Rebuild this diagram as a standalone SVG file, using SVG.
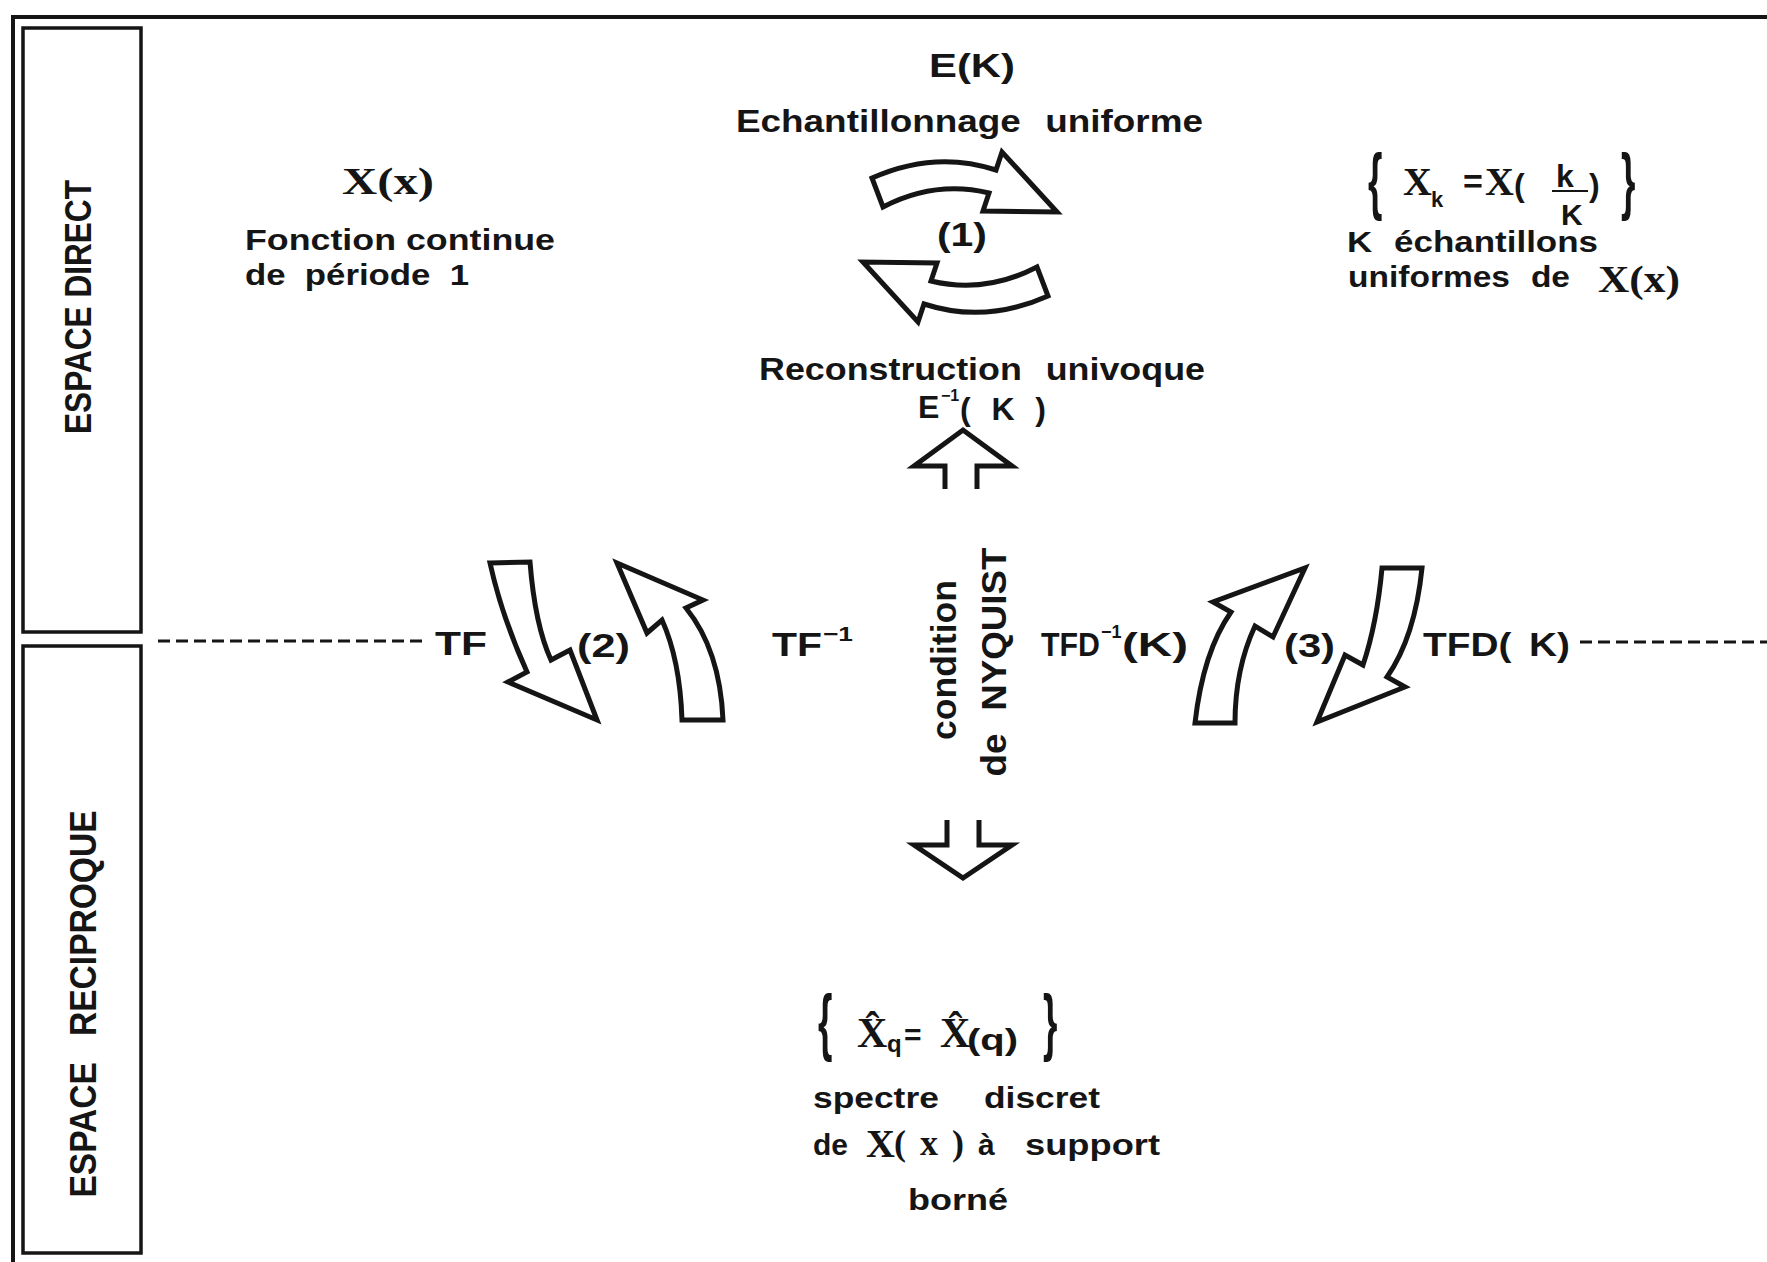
<svg xmlns="http://www.w3.org/2000/svg" width="1767" height="1262" viewBox="0 0 1767 1262">
<style>
.t{font-family:"Liberation Sans",Arial,sans-serif;font-weight:bold;fill:#151515}
.x{font-family:"Liberation Serif","Times New Roman",serif;font-weight:bold;fill:#151515}
.ln{stroke:#151515;stroke-width:4;fill:none}
.box{stroke:#151515;stroke-width:3.5;fill:none}
.arr{fill:#fff;stroke:#151515;stroke-width:5;stroke-linejoin:miter}
.dash{stroke:#151515;stroke-width:3;stroke-dasharray:12 6;fill:none}
</style>
<rect width="1767" height="1262" fill="#fff"/>
<g id="frame">
<line class="ln" x1="11" y1="17" x2="1767" y2="17"/>
<line class="ln" x1="13" y1="15" x2="13" y2="1262"/>
</g>
<g id="espace-direct">
<rect class="box" x="23" y="28" width="118" height="604"/>
<text class="t" font-size="36" text-anchor="middle" textLength="254" lengthAdjust="spacingAndGlyphs" transform="translate(91,307) rotate(-90)">ESPACE DIRECT</text>
</g>
<g id="espace-reciproque">
<rect class="box" x="23" y="646" width="118" height="607"/>
<text class="t" font-size="36" text-anchor="middle" textLength="387" lengthAdjust="spacingAndGlyphs" style="word-spacing:18px" transform="translate(96,1004) rotate(-90)">ESPACE RECIPROQUE</text>
</g>
<g id="node-fonction">
<text class="x" x="342" y="194" font-size="38" textLength="92" lengthAdjust="spacingAndGlyphs">X(x)</text>
<text class="t" x="245" y="250" font-size="29" textLength="310" lengthAdjust="spacingAndGlyphs">Fonction continue</text>
<text class="t" x="245" y="285" font-size="29" textLength="224" lengthAdjust="spacingAndGlyphs" style="word-spacing:8px">de période 1</text>
</g>
<g id="node-echantillonnage">
<text class="t" x="929" y="77" font-size="34" textLength="86" lengthAdjust="spacingAndGlyphs">E(K)</text>
<text class="t" x="736" y="132" font-size="31" textLength="467" lengthAdjust="spacingAndGlyphs" style="word-spacing:12px">Echantillonnage uniforme</text>
</g>
<g id="node-reconstruction">
<text class="t" x="759" y="380" font-size="31" textLength="446" lengthAdjust="spacingAndGlyphs" style="word-spacing:12px">Reconstruction univoque</text>
<text class="t" x="918" y="418" font-size="32">E</text>
<text class="t" x="941" y="401" font-size="16">−1</text>
<text class="t" x="960" y="420" font-size="32" textLength="86" lengthAdjust="spacing">(K)</text>
</g>
<g id="node-echantillons">
<text class="t" font-size="74" transform="translate(1368,206) scale(0.5,1)">{</text>
<text class="x" x="1403" y="195" font-size="40">X</text>
<text class="t" x="1431" y="207" font-size="22">k</text>
<text class="t" x="1463" y="193" font-size="34">=</text>
<text class="x" x="1485" y="195" font-size="40">X</text>
<text class="t" x="1514" y="196" font-size="32">(</text>
<text class="t" x="1556" y="187" font-size="32">k</text>
<line x1="1552" y1="191" x2="1588" y2="191" stroke="#151515" stroke-width="2"/>
<text class="t" x="1561" y="225" font-size="30">K</text>
<text class="t" x="1589" y="196" font-size="32">)</text>
<text class="t" font-size="74" transform="translate(1621,206) scale(0.5,1)">}</text>
<text class="t" x="1347" y="252" font-size="29" textLength="251" lengthAdjust="spacingAndGlyphs" style="word-spacing:10px">K échantillons</text>
<text class="t" x="1348" y="287" font-size="29" textLength="222" lengthAdjust="spacingAndGlyphs" style="word-spacing:10px">uniformes de</text>
<text class="x" x="1598" y="292" font-size="38" textLength="82" lengthAdjust="spacingAndGlyphs">X(x)</text>
</g>
<g id="node-nyquist">
<path class="arr" d="M945,489 L945,466 L914,466 L963,430 L1012,466 L977,466 L977,489"/>
<text class="t" font-size="35" text-anchor="middle" textLength="160" lengthAdjust="spacingAndGlyphs" transform="translate(956,660) rotate(-90)">condition</text>
<text class="t" font-size="35" text-anchor="middle" textLength="229" lengthAdjust="spacingAndGlyphs" style="word-spacing:12px" transform="translate(1006,662) rotate(-90)">de NYQUIST</text>
<path class="arr" d="M947,820 L947,845 L914,845 L963,878 L1012,845 L979,845 L979,820"/>
</g>
<g id="node-spectre">
<text class="t" font-size="74" transform="translate(818,1047) scale(0.5,1)">{</text>
<text class="x" x="857" y="1047" font-size="42">X̂</text>
<text class="t" x="887" y="1052" font-size="24">q</text>
<text class="t" x="904" y="1045" font-size="30">=</text>
<text class="x" x="940" y="1047" font-size="42">X̂</text>
<text class="t" x="967" y="1050" font-size="30" textLength="51" lengthAdjust="spacingAndGlyphs">(q)</text>
<text class="t" font-size="74" transform="translate(1043,1047) scale(0.5,1)">}</text>
<text class="t" x="813" y="1108" font-size="30" textLength="287" lengthAdjust="spacingAndGlyphs" style="word-spacing:30px">spectre discret</text>
<text class="t" x="813" y="1155" font-size="30">de</text>
<text class="x" x="866" y="1157" font-size="40">X</text>
<text class="x" x="894" y="1155" font-size="36" textLength="70" lengthAdjust="spacing">(x)</text>
<text class="t" x="978" y="1155" font-size="30">à</text>
<text class="t" x="1025" y="1155" font-size="30" textLength="135" lengthAdjust="spacingAndGlyphs">support</text>
<text class="t" x="908" y="1210" font-size="30" textLength="100" lengthAdjust="spacingAndGlyphs">borné</text>
</g>
<g id="connectors">
<line class="dash" x1="158" y1="641" x2="422" y2="641"/>
<line class="dash" x1="1580" y1="642" x2="1767" y2="642"/>
<path class="arr" d="M872,178 Q935,150 996,170 L1002,152 L1057,212 L983,211 L989,193 Q935,180 883,207 Z"/>
<path class="arr" transform="rotate(180 960 237)" d="M872,178 Q935,150 996,170 L1002,152 L1057,212 L983,211 L989,193 Q935,180 883,207 Z"/>
<text class="t" x="937" y="246" font-size="34" textLength="50" lengthAdjust="spacingAndGlyphs">(1)</text>
<path class="arr" d="M490,563 L530,562 Q535,625 551,660 L570,650 L597,720 L508,682 L527,672 Q502,617 490,563 Z"/>
<path class="arr" d="M682,720 L723,720 Q720,650 686,608 L703,600 L617,563 L647,633 L662,620 Q680,660 682,720 Z"/>
<text class="t" x="435" y="655" font-size="34" textLength="52" lengthAdjust="spacingAndGlyphs">TF</text>
<text class="t" x="577" y="657" font-size="34" textLength="53" lengthAdjust="spacingAndGlyphs">(2)</text>
<text class="t" x="772" y="656" font-size="34" textLength="50" lengthAdjust="spacingAndGlyphs">TF</text>
<text class="t" x="823" y="641" font-size="20" textLength="30" lengthAdjust="spacingAndGlyphs">−1</text>
<path class="arr" d="M1195,723 L1235,723 Q1235,669 1255,626 L1273,637 L1305,568 L1213,602 L1231,612 Q1203,652 1195,723 Z"/>
<path class="arr" d="M1382,568 L1422,568 Q1415,637 1387,677 L1405,687 L1317,722 L1345,655 L1363,665 Q1377,623 1382,568 Z"/>
<text class="t" x="1041" y="656" font-size="34" textLength="59" lengthAdjust="spacingAndGlyphs">TFD</text>
<text class="t" x="1101" y="638" font-size="18">−1</text>
<text class="t" x="1122" y="656" font-size="34" textLength="66" lengthAdjust="spacingAndGlyphs">(K)</text>
<text class="t" x="1284" y="657" font-size="34" textLength="51" lengthAdjust="spacingAndGlyphs">(3)</text>
<text class="t" x="1423" y="656" font-size="34" textLength="147" lengthAdjust="spacingAndGlyphs" style="word-spacing:6px">TFD( K)</text>
</g>
</svg>
